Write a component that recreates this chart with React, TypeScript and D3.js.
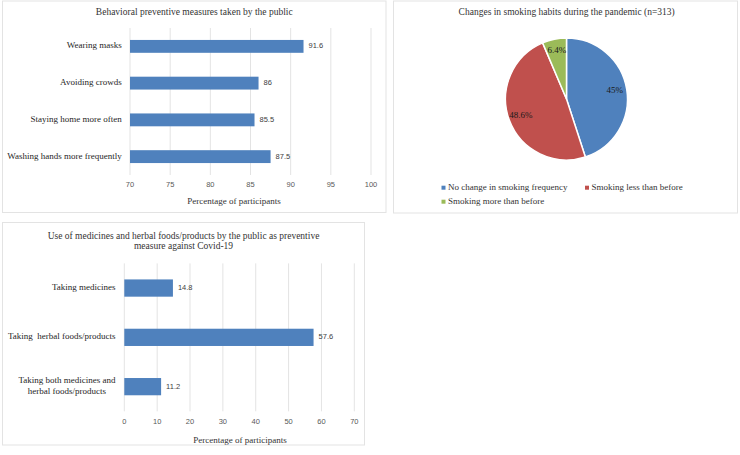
import React from 'react'
import * as d3 from 'd3'

const behaviorCategories = [
  'Wearing masks',
  'Avoiding crowds',
  'Staying home more often',
  'Washing hands more frequently',
]
const behaviorValues = [91.6, 86, 85.5, 87.5]
const behaviorTicks = [70, 75, 80, 85, 90, 95, 100]

const smokingCategories = [
  'No change in smoking frequency',
  'Smoking less than before',
  'Smoking more than before',
]
const smokingValues = [45, 48.6, 6.4]
const smokingLabels = ['45%', '48.6%', '6.4%']

const medicineCategories = [
  'Taking medicines',
  'Taking  herbal foods/products',
  'Taking both medicines and\nherbal foods/products',
]
const medicineValues = [14.8, 57.6, 11.2]
const medicineTicks = [0, 10, 20, 30, 40, 50, 60, 70]

const SERIF = "'Liberation Serif', 'Times New Roman', serif"
const SANS = "'Liberation Sans', Arial, sans-serif"
const BAR = '#4f81bd'
const GRID = '#d9d9d9'
const BORDER = '#e3e3e3'
const PIE_COLORS = ['#4f81bd', '#c0504d', '#9bbb59']

let canvasCtx = null
const textWidth = (txt, font) => {
  if (!canvasCtx) canvasCtx = document.createElement('canvas').getContext('2d')
  canvasCtx.font = font
  return canvasCtx.measureText(txt).width
}

const BarPanel = ({ box, title, categories, values, ticks, xRange, yRange, labelRight, axisTitleX, tickY, axisTitleY, titleY }) => {
  const xScale = d3.scaleLinear().domain([ticks[0], ticks[ticks.length - 1]]).range(xRange)
  const yScale = d3
    .scaleBand()
    .domain(categories)
    .range(yRange)
    .paddingInner(0.65)
    .paddingOuter(0.325)
  const titleLines = title.split('\n')
  return (
    <g>
      <rect x={box.x} y={box.y} width={box.w} height={box.h} fill="#fff" stroke={BORDER} strokeWidth={1} />
      {titleLines.map((t, i) => (
        <text
          key={t}
          x={box.x + box.w / 2}
          y={titleY + i * 10.6}
          textAnchor="middle"
          dominantBaseline="middle"
          fontFamily={SERIF}
          fontSize={9.5}
          fill="#333"
        >
          {t}
        </text>
      ))}
      {ticks.map((t) => (
        <line key={'g' + t} x1={xScale(t)} x2={xScale(t)} y1={yRange[0]} y2={yRange[1]} stroke={GRID} strokeWidth={0.75} />
      ))}
      {ticks.map((t) => (
        <text key={'t' + t} x={xScale(t)} y={tickY} textAnchor="middle" dominantBaseline="middle" fontFamily={SANS} fontSize={7.5} fill="#595959">
          {t}
        </text>
      ))}
      {categories.map((c, i) => {
        const cy = yScale(c) + yScale.bandwidth() / 2
        const lines = c.split('\n')
        const font = `9px ${SERIF}`
        const maxW = d3.max(lines, (l) => textWidth(l, font))
        const multi = lines.length > 1
        return (
          <g key={c}>
            <rect x={xScale(ticks[0])} y={yScale(c)} width={xScale(values[i]) - xScale(ticks[0])} height={yScale.bandwidth()} fill={BAR} />
            <text
              x={multi ? labelRight - maxW / 2 : labelRight}
              y={cy - ((lines.length - 1) * 10.6) / 2}
              textAnchor={multi ? 'middle' : 'end'}
              dominantBaseline="middle"
              fontFamily={SERIF}
              fontSize={9}
              fill="#262626"
              style={{ whiteSpace: 'pre' }}
            >
              {lines.map((l, j) => (
                <tspan key={l} x={multi ? labelRight - maxW / 2 : labelRight} dy={j === 0 ? 0 : 10.6}>
                  {l}
                </tspan>
              ))}
            </text>
            <text x={xScale(values[i]) + 5} y={cy} dominantBaseline="middle" fontFamily={SANS} fontSize={7.5} fill="#404040">
              {values[i]}
            </text>
          </g>
        )
      })}
      <text x={axisTitleX} y={axisTitleY} textAnchor="middle" dominantBaseline="middle" fontFamily={SERIF} fontSize={9} fill="#333">
        Percentage of participants
      </text>
    </g>
  )
}

const PiePanel = () => {
  const box = { x: 393.5, y: 1, w: 344, h: 212 }
  const cx = 566.5
  const cy = 99
  const r = 61
  const pie = d3.pie().sort(null).value((d) => d)
  const arcs = pie(smokingValues)
  const arc = d3.arc().innerRadius(0).outerRadius(r)
  const labelArc = d3.arc().innerRadius(r * 0.8).outerRadius(r * 0.8)
  const legendPos = [
    [441.5, 187.7],
    [585, 187.7],
    [441.5, 201.7],
  ]
  return (
    <g>
      <rect x={box.x} y={box.y} width={box.w} height={box.h} fill="#fff" stroke={BORDER} strokeWidth={1} />
      <text x={566.7} y={13.3} textAnchor="middle" dominantBaseline="middle" fontFamily={SERIF} fontSize={9.5} fill="#333">
        Changes in smoking habits during the pandemic (n=313)
      </text>
      <g transform={`translate(${cx},${cy})`}>
        {arcs.map((a, i) => (
          <path key={i} d={arc(a)} fill={PIE_COLORS[i]} stroke="#fff" strokeWidth={1.5} />
        ))}
        {arcs.map((a, i) => {
          const [lx, ly] = labelArc.centroid(a)
          return (
            <text key={'l' + i} x={lx} y={ly} textAnchor="middle" dominantBaseline="middle" fontFamily={SERIF} fontSize={9} fill="#1a1a1a">
              {smokingLabels[i]}
            </text>
          )
        })}
      </g>
      {smokingCategories.map((c, i) => (
        <g key={c}>
          <rect x={legendPos[i][0]} y={legendPos[i][1] - 2} width={4} height={4} fill={PIE_COLORS[i]} />
          <text x={legendPos[i][0] + 6.5} y={legendPos[i][1]} dominantBaseline="middle" fontFamily={SERIF} fontSize={9} fill="#333">
            {c}
          </text>
        </g>
      ))}
    </g>
  )
}

const App = () => {
  return (
    <svg width={740} height={455} style={{ position: 'absolute', left: 0, top: 0, background: '#fff' }}>
      <BarPanel
        box={{ x: 2.5, y: 1, w: 383.5, h: 211.5 }}
        title="Behavioral preventive measures taken by the public"
        categories={behaviorCategories}
        values={behaviorValues}
        ticks={behaviorTicks}
        xRange={[130, 371]}
        yRange={[28, 175]}
        labelRight={121.7}
        axisTitleX={234}
        tickY={185}
        axisTitleY={202}
        titleY={13.3}
      />
      <PiePanel />
      <BarPanel
        box={{ x: 2.5, y: 222.5, w: 362, h: 222.5 }}
        title={'Use of medicines and herbal foods/products by the public as preventive\nmeasure against Covid-19'}
        categories={medicineCategories}
        values={medicineValues}
        ticks={medicineTicks}
        xRange={[124.3, 354.3]}
        yRange={[263.4, 411.3]}
        labelRight={115.5}
        axisTitleX={240}
        tickY={422.3}
        axisTitleY={441}
        titleY={236.7}
      />
    </svg>
  )
}

export default App
